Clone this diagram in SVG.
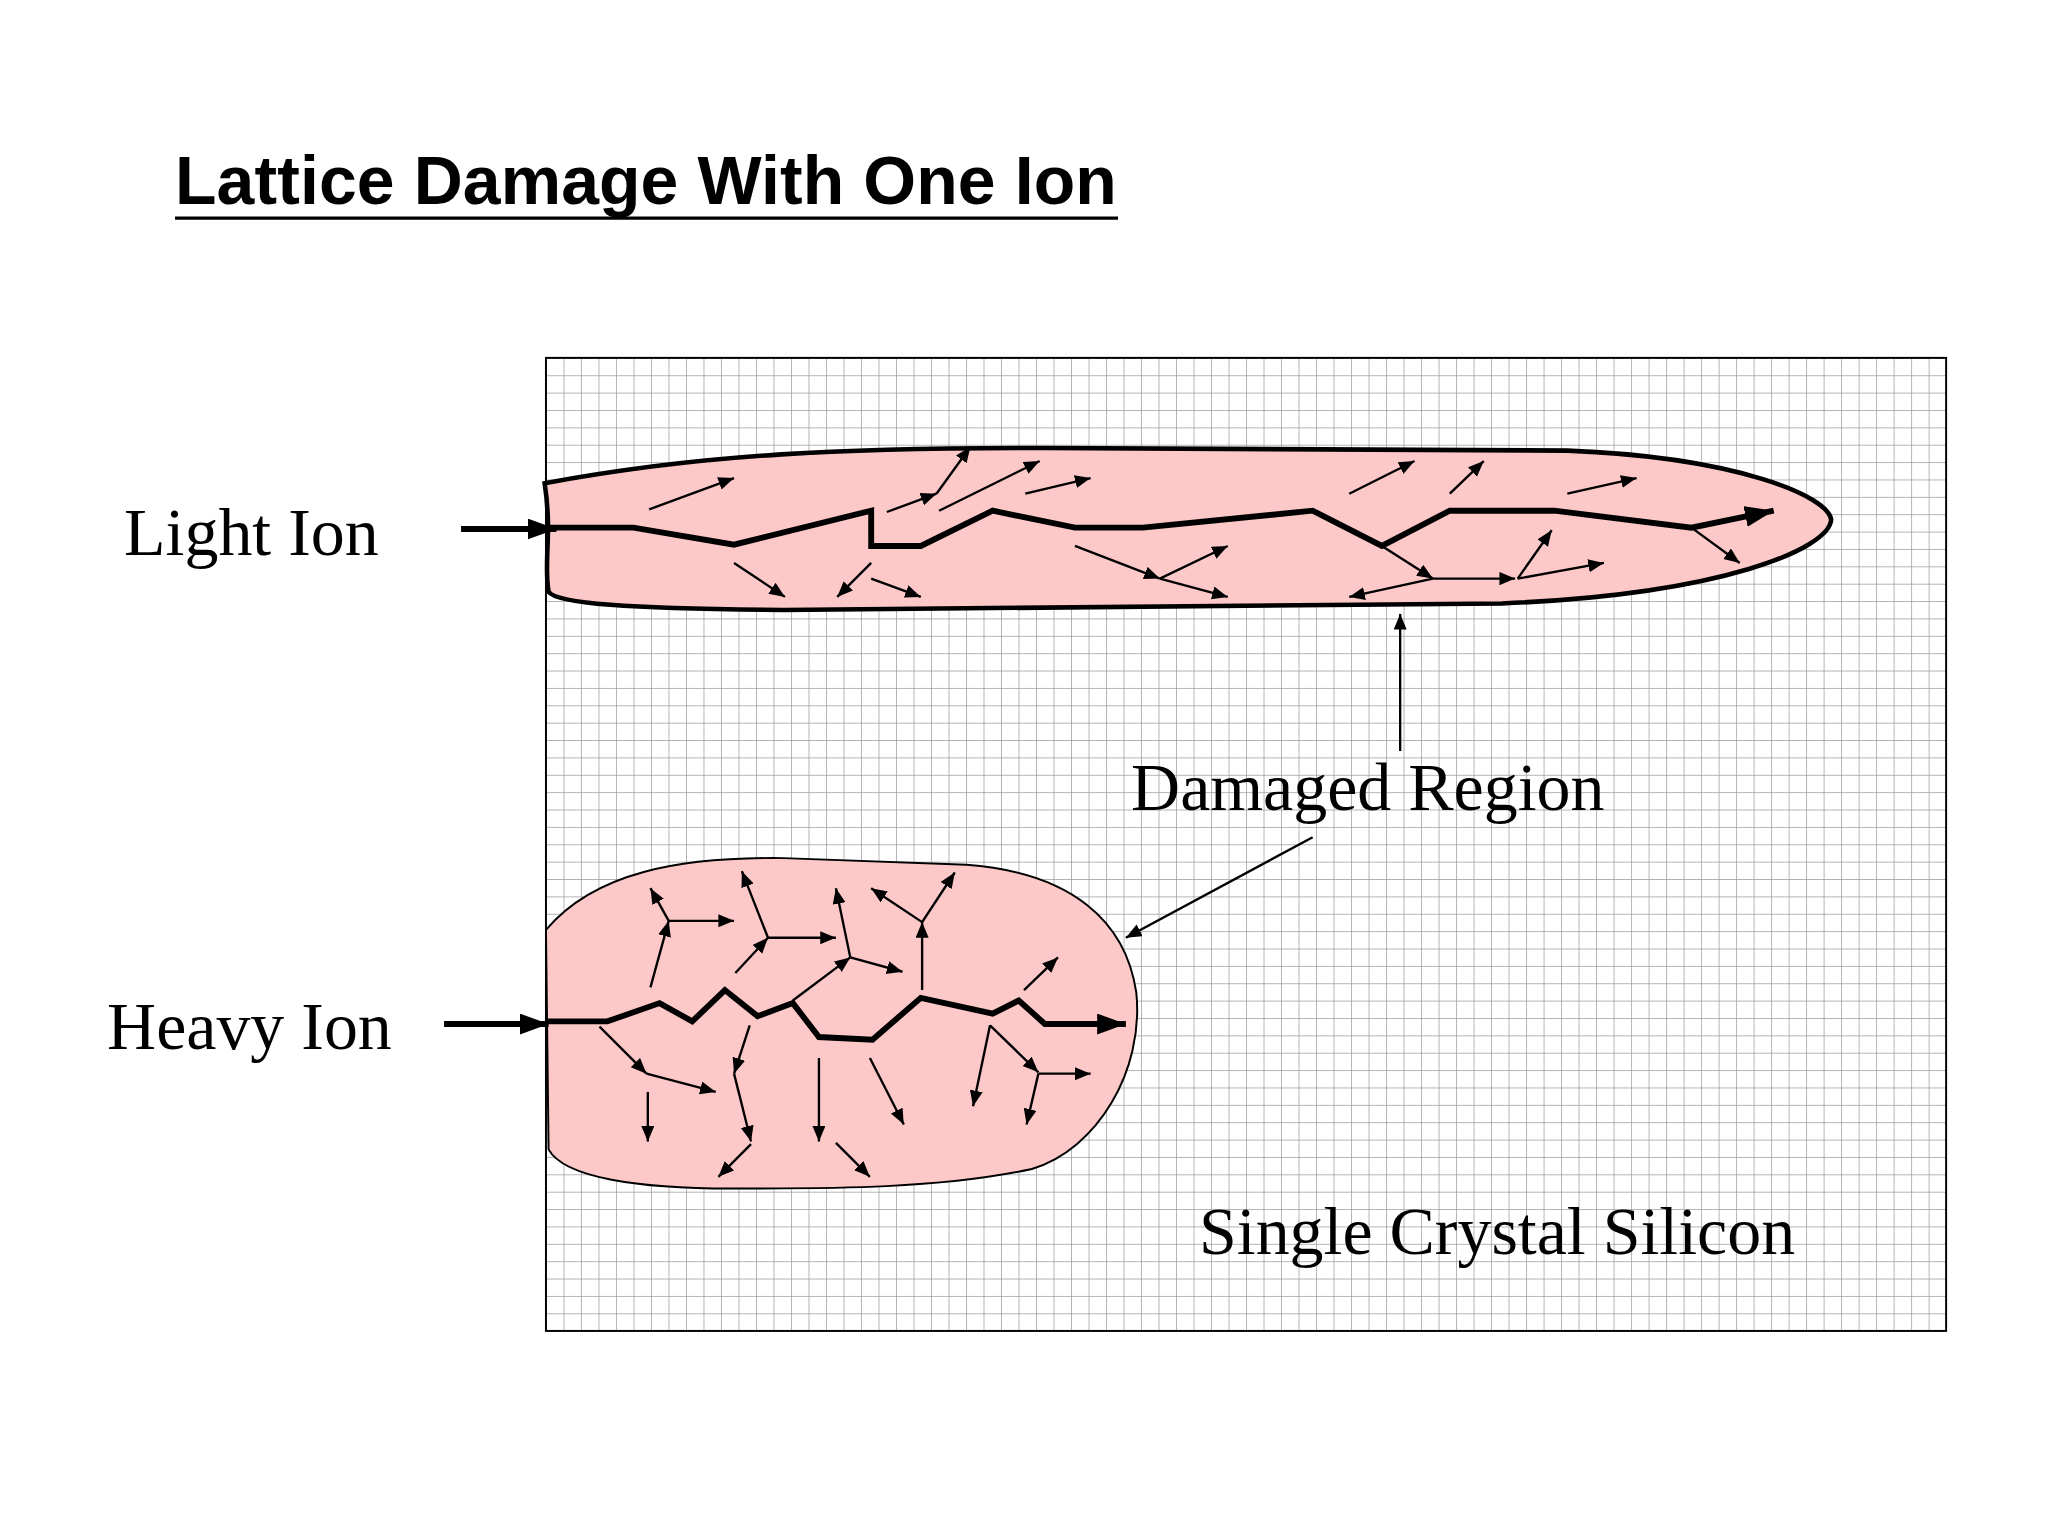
<svg xmlns="http://www.w3.org/2000/svg" width="2048" height="1536" viewBox="0 0 2048 1536">
<style>
.t{font-family:"Liberation Serif","Times New Roman",serif;font-size:52px;fill:#000}
.a{stroke:#000;stroke-width:1.8;fill:none;marker-end:url(#ah)}
.b{stroke:#000;stroke-width:4.5;fill:none;stroke-linejoin:miter}
.blob{fill:#fcc8c8;stroke:#000}
</style>
<defs>
<pattern id="grid" patternUnits="userSpaceOnUse" x="418" y="274" width="13.4" height="13.3">
<path d="M0,0 V13.3 M0,0 H13.4" stroke="#999" stroke-width="1.1" fill="none"/>
</pattern>
<marker id="ah" markerUnits="userSpaceOnUse" markerWidth="14" markerHeight="12" refX="12" refY="5" orient="auto"><path d="M0,0 L12,5 L0,10 Z" fill="#000"/></marker>
<marker id="bh" markerUnits="userSpaceOnUse" markerWidth="24" markerHeight="20" refX="22" refY="8" orient="auto"><path d="M0,0 L22,8 L0,16 Z" fill="#000"/></marker>
</defs>
<rect width="2048" height="1536" fill="#fff"/>
<g transform="scale(1.30612)">
<g id="title"><text x="134" y="156" style="font-family:'Liberation Sans',Arial,sans-serif;font-weight:bold;font-size:52px" textLength="721">Lattice Damage With One Ion</text>
<line x1="134" y1="167" x2="856" y2="167" stroke="#000" stroke-width="2.5"/></g>
<g id="silicon"><rect x="418" y="274" width="1072" height="745" fill="url(#grid)" stroke="#000" stroke-width="1.5"/></g>
<g id="light-region"><path class="blob" stroke-width="3.5" d="M417,370 C540,347 650,343 800,343 L1200,345 C1330,350 1400,380 1402,398 C1400,420 1320,455 1150,462 L600,467 C480,466 426,462 420,453 C416,430 423,410 417,370 Z"/></g>
<g id="heavy-region"><path class="blob" stroke-width="1.5" d="M418,712 C455,668 520,656 600,657 L740,662 C820,668 862,705 870,760 C876,820 840,880 790,895 C720,910 640,910 560,910 C490,910 432,902 420,880 Z"/></g>
<g id="connectors">
<line class="b" x1="353" y1="405" x2="426" y2="405" marker-end="url(#bh)"/>
<polyline class="b" points="420,404 485,404 562,417 667,391 667,418 705,418 760,391 823,404 875,404 1005,391 1058,418 1110,391 1190,391 1295,404 1358,391" marker-end="url(#bh)"/>
<line class="a" x1="497" y1="390" x2="562" y2="366"/>
<line class="a" x1="679" y1="392" x2="717" y2="378"/>
<line class="a" x1="717" y1="378" x2="743" y2="342"/>
<line class="a" x1="719" y1="391" x2="796" y2="353"/>
<line class="a" x1="785" y1="378" x2="835" y2="366"/>
<line class="a" x1="562" y1="431" x2="601" y2="457"/>
<line class="a" x1="667" y1="431" x2="641" y2="457"/>
<line class="a" x1="667" y1="443" x2="705" y2="457"/>
<line class="a" x1="823" y1="418" x2="888" y2="443"/>
<line class="a" x1="888" y1="443" x2="940" y2="418"/>
<line class="a" x1="888" y1="443" x2="940" y2="457"/>
<line class="a" x1="1033" y1="378" x2="1083" y2="353"/>
<line class="a" x1="1110" y1="378" x2="1136" y2="353"/>
<line class="a" x1="1200" y1="378" x2="1253" y2="366"/>
<line class="a" x1="1058" y1="418" x2="1097" y2="443"/>
<line class="a" x1="1097" y1="443" x2="1160" y2="443"/>
<line class="a" x1="1097" y1="443" x2="1033" y2="457"/>
<line class="a" x1="1162" y1="443" x2="1188" y2="406"/>
<line class="a" x1="1162" y1="443" x2="1228" y2="431"/>
<line class="a" x1="1295" y1="404" x2="1332" y2="431"/>
<line class="a" x1="1072" y1="575" x2="1072" y2="470"/>
<line class="a" x1="1005" y1="641" x2="862" y2="718"/>
<line class="b" x1="340" y1="784" x2="420" y2="784" marker-end="url(#bh)"/>
<polyline class="b" points="418,782 465,782 505,768 530,782 555,758 580,778 607,768 627,794 668,796 705,764 760,776 780,766 800,784 862,784" marker-end="url(#bh)"/>
<line class="a" x1="498" y1="756" x2="512" y2="705"/>
<line class="a" x1="512" y1="705" x2="498" y2="680"/>
<line class="a" x1="512" y1="705" x2="562" y2="705"/>
<line class="a" x1="563" y1="745" x2="588" y2="718"/>
<line class="a" x1="588" y1="718" x2="568" y2="667"/>
<line class="a" x1="588" y1="718" x2="640" y2="718"/>
<line class="a" x1="607" y1="766" x2="651" y2="733"/>
<line class="a" x1="651" y1="733" x2="640" y2="680"/>
<line class="a" x1="651" y1="733" x2="691" y2="744"/>
<line class="a" x1="706" y1="758" x2="706" y2="706"/>
<line class="a" x1="706" y1="706" x2="667" y2="680"/>
<line class="a" x1="706" y1="706" x2="731" y2="668"/>
<line class="a" x1="784" y1="758" x2="810" y2="733"/>
<line class="a" x1="459" y1="786" x2="495" y2="822"/>
<line class="a" x1="495" y1="822" x2="548" y2="836"/>
<line class="a" x1="496" y1="836" x2="496" y2="874"/>
<line class="a" x1="574" y1="785" x2="562" y2="822"/>
<line class="a" x1="562" y1="822" x2="575" y2="874"/>
<line class="a" x1="575" y1="876" x2="550" y2="901"/>
<line class="a" x1="627" y1="810" x2="627" y2="874"/>
<line class="a" x1="640" y1="875" x2="666" y2="901"/>
<line class="a" x1="666" y1="810" x2="692" y2="861"/>
<line class="a" x1="758" y1="785" x2="745" y2="847"/>
<line class="a" x1="758" y1="785" x2="795" y2="821"/>
<line class="a" x1="795" y1="822" x2="835" y2="822"/>
<line class="a" x1="795" y1="822" x2="786" y2="861"/>
</g>
<g id="labels">
<text class="t" x="95" y="425">Light Ion</text>
<text class="t" x="82" y="803">Heavy Ion</text>
<text class="t" x="866" y="620">Damaged Region</text>
<text class="t" x="918" y="960">Single Crystal Silicon</text>
</g>
</g>
</svg>
